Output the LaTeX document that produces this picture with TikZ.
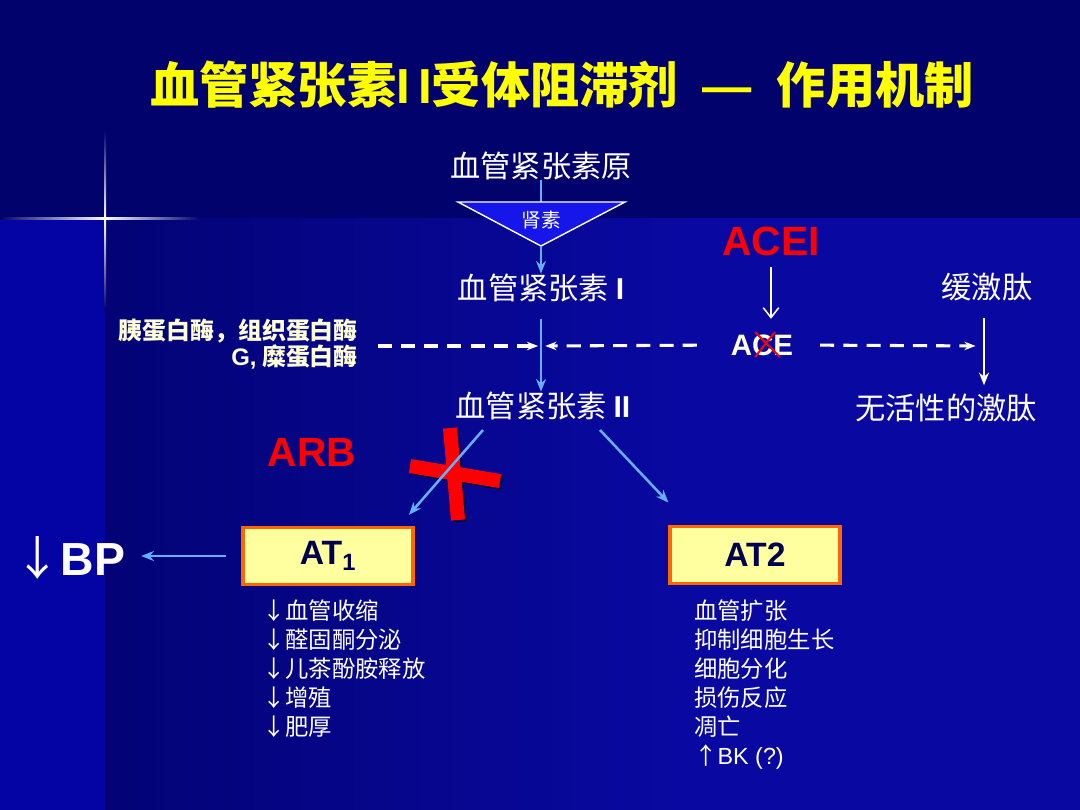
\documentclass[tikz,border=0pt]{standalone}
\usepackage{fontspec}
\setmainfont{Noto Sans CJK SC}
\newfontfamily\arial{Liberation Sans}
\usetikzlibrary{arrows.meta}

\definecolor{navybg}{RGB}{2,2,108}
\definecolor{stripbg}{RGB}{4,4,164}
\definecolor{lowleft}{RGB}{3,3,118}
\definecolor{lowright}{RGB}{9,9,162}
\definecolor{skyarrow}{RGB}{100,176,255}
\definecolor{boxfill}{RGB}{255,255,160}
\definecolor{boxline}{RGB}{255,102,0}
\definecolor{titleyellow}{RGB}{255,255,0}
\definecolor{cream}{RGB}{255,255,215}
\definecolor{darknavy}{RGB}{0,0,80}
\definecolor{reninblue}{RGB}{22,22,235}

\tikzset{
  maintext/.style={text=white, inner sep=0pt, font=\fontsize{21.5}{24}\selectfont},
  bluearrow/.style={-{Stealth[length=9pt,width=7pt]}, skyarrow, line width=1.8pt},
  openarrow/.style={-{Straight Barb[length=7pt,width=11pt]}, white, line width=1.1pt},
  fillarrow/.style={-{Stealth[length=9pt,width=7pt]}, white, line width=1.6pt},
  dasharrow/.style={-{Stealth[length=8pt,width=6pt]}, white, line width=2.2pt, dash pattern=on 10pt off 6.5pt},
  atbox/.style={draw=boxline, line width=2.2pt, fill=boxfill, minimum width=4.25cm, minimum height=1.42cm, text=darknavy, font=\arial\bfseries\fontsize{24}{26}\selectfont},
  redtag/.style={text=red, inner sep=0pt, font=\arial\bfseries\fontsize{29}{32}\selectfont},
  listtext/.style={text=white, align=left, anchor=north west, inner sep=0pt, font=\fontsize{16.6}{20.5}\selectfont},
  redbar/.style={red, line width=10pt},
}

\begin{document}
\begin{tikzpicture}[x=0.025cm, y=-0.025cm]
    % background
    \useasboundingbox (0,0) rectangle (1080,810);
    \fill[navybg] (0,0) rectangle (1080,810);
    \fill[stripbg] (0,218) rectangle (105,810);
    \shade[left color=lowleft, right color=lowright] (105,218) rectangle (700,810);
    \fill[lowright] (700,218) rectangle (1080,810);
    
    % light flare
    \shade[top color=navybg, bottom color=white] (104,130) rectangle (106,218);
    \shade[top color=white, bottom color=navybg] (104,218) rectangle (106,310);
    \shade[left color=navybg, right color=white] (0,217) rectangle (105,219);
    \shade[left color=white, right color=navybg] (105,217) rectangle (200,219);
    
    % title
    \node[text=titleyellow, font=\bfseries\fontsize{35}{39}\selectfont] (title) at (562,85) {血管紧张素{\arial I\,I}受体阻滞剂 {\arial\ —\ } 作用机制};
    
    % renin step
    \node[maintext] (pro) at (541,166) {血管紧张素原};
    \coordinate (rtop) at (541,202);
    \coordinate (rtip) at (541,246);
    \draw[skyarrow, line width=1.8pt] (pro.south) -- (rtop);
    \draw[reninblue, fill=reninblue, draw=white, line width=1pt] (458,202) -- (625,202) -- (rtip) -- cycle;
    \node[text=white, font=\fontsize{14}{16}\selectfont] (renin) at (541,220) {肾素};
    
    \node[maintext] (ang1) at (541,288) {血管紧张素 {\arial\bfseries I}};
    \draw[bluearrow] (rtip) -- (rtip |- ang1.north);
    
    \node[maintext] (ang2) at (543,406) {血管紧张素 {\arial\bfseries II}};
    \draw[bluearrow, shorten <=12pt] (ang1.south) -- (ang1.south |- ang2.north);
    
    % other enzymes
    \node[text=cream, anchor=east, align=right, inner sep=0pt, font=\bfseries\fontsize{17}{18.5}\selectfont] (enz) at (358,344) {胰蛋白酶，组织蛋白酶\\{\arial G,} 糜蛋白酶};
    \coordinate (mid) at (541,346);
    \draw[dasharrow, shorten <=14pt, shorten >=2pt] (enz.east |- mid) -- (mid);
    
    % ACE and ACEI
    \node[redtag] (acei) at (771,241) {ACEI};
    \node[text=cream, inner sep=0pt, font=\arial\bfseries\fontsize{21}{24}\selectfont] (ace) at (762,345) {ACE};
    \draw[red, line width=1.4pt] (755,332) -- (780,357);
    \draw[red, line width=1.4pt] (775,332) -- (755,357);
    \draw[openarrow, shorten <=8pt, shorten >=11pt] (acei.south) -- (acei.south |- ace.north);
    \draw[dasharrow, shorten <=24pt, shorten >=3pt] (ace.west) -- (mid);
    
    % bradykinin
    \node[maintext] (bk) at (987,287) {缓激肽};
    \node[maintext] (inact) at (946,408) {无活性的激肽};
    \coordinate (kin) at (984,346);
    \draw[dasharrow, shorten <=19pt, shorten >=6pt] (ace.east) -- (kin);
    \draw[fillarrow, shorten <=12pt, shorten >=6pt] (bk.south -| kin) -- (inact.north -| kin);
    
    % ARB blockade
    \node[redtag] (arb) at (312,452) {ARB};
    \draw[redbar, black, opacity=0.5] (452,430) -- (460,522);
    \draw[redbar, black, opacity=0.5] (412,468) -- (502,483);
    \draw[redbar] (450,428) -- (458,520);
    \draw[redbar] (410,466) -- (500,481);
    
    % receptors
    \node[atbox] (at1) at (328,556) {AT\textsubscript{1}};
    \node[atbox] (at2) at (755,555) {AT2};
    \coordinate (a2l) at (483,430);
    \coordinate (a2r) at (600,430);
    \draw[bluearrow] (a2l) -- ([shift={(-4pt,8pt)}]at1.north east);
    \draw[bluearrow] (a2r) -- ([yshift=16pt]at2.north west);
    
    % blood pressure
    \node[text=white, inner sep=0pt, font=\fontsize{33}{36}\selectfont] (bp) at (70,558) {↓{\arial\bfseries BP}};
    \draw[bluearrow, shorten <=11pt, shorten >=11pt] (at1.west) -- (at1.west -| bp.east);
    
    % effects
    \node[listtext] (at1list) at (262,600) {↓血管收缩\\↓醛固酮分泌\\↓儿茶酚胺释放\\↓增殖\\↓肥厚};
    \node[listtext] (at2list) at (694,600) {血管扩张\\抑制细胞生长\\细胞分化\\损伤反应\\凋亡\\↑{\arial BK (?)}};
\end{tikzpicture}
\end{document}
